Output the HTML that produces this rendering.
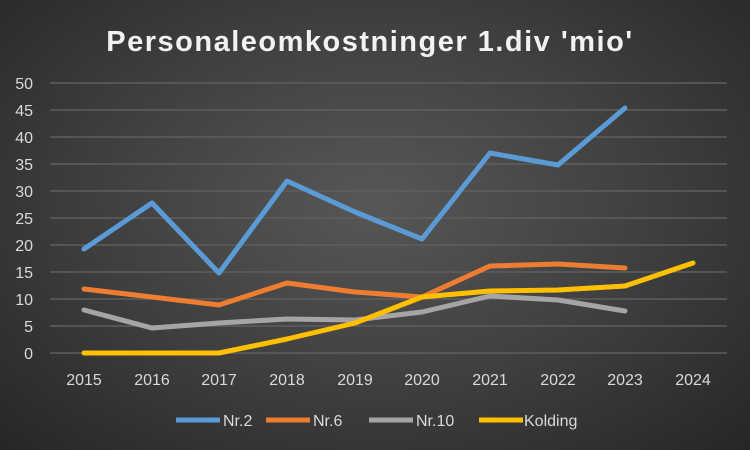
<!DOCTYPE html>
<html><head><meta charset="utf-8"><style>
html,body{margin:0;padding:0;width:750px;height:450px;overflow:hidden}
body{background:radial-gradient(ellipse at 50% 45%,#575757 0%,#404040 50%,#262626 100%)}
text{font-family:"Liberation Sans",sans-serif;fill:#d9d9d9}
</style></head><body>
<svg width="750" height="450" xmlns="http://www.w3.org/2000/svg">
<text x="370" y="51" text-anchor="middle" font-size="29" font-weight="bold" letter-spacing="1.5" style="fill:#f2f2f2">Personaleomkostninger 1.div 'mio'</text>
<g stroke="#5e5e5e" stroke-width="1.5">
<line x1="50" x2="727" y1="83" y2="83"/><line x1="50" x2="727" y1="110" y2="110"/>
<line x1="50" x2="727" y1="137" y2="137"/><line x1="50" x2="727" y1="164" y2="164"/>
<line x1="50" x2="727" y1="191" y2="191"/><line x1="50" x2="727" y1="218" y2="218"/>
<line x1="50" x2="727" y1="245" y2="245"/><line x1="50" x2="727" y1="272" y2="272"/>
<line x1="50" x2="727" y1="299" y2="299"/><line x1="50" x2="727" y1="326" y2="326"/>
<line x1="50" x2="727" y1="353" y2="353"/>
</g>
<g font-size="16" text-anchor="end">
<text x="33" y="89">50</text><text x="33" y="116">45</text><text x="33" y="143">40</text>
<text x="33" y="170">35</text><text x="33" y="197">30</text><text x="33" y="224">25</text>
<text x="33" y="251">20</text><text x="33" y="278">15</text><text x="33" y="305">10</text>
<text x="33" y="332">5</text><text x="33" y="359">0</text>
</g>
<g font-size="16" text-anchor="middle">
<text x="84" y="385">2015</text><text x="152" y="385">2016</text><text x="219" y="385">2017</text>
<text x="287" y="385">2018</text><text x="355" y="385">2019</text><text x="422" y="385">2020</text>
<text x="490" y="385">2021</text><text x="558" y="385">2022</text><text x="625" y="385">2023</text>
<text x="693" y="385">2024</text>
</g>
<g fill="none" stroke-width="5" stroke-linejoin="round" stroke-linecap="round">
<polyline stroke="#a5a5a5" points="84,310 152,328 219,323 287,319 355,320 422,312 490,296 558,300 625,311"/>
<polyline stroke="#ed7d31" points="84,289 152,297 219,305 287,283 355,292 422,297 490,266 558,264 625,268"/>
<polyline stroke="#ffc000" points="84,353 152,353 219,353 287,339 355,323 422,297 490,291 558,290 625,286 693,263"/>
<polyline stroke="#5b9bd5" points="84,249 152,203 219,273 287,181 355,212 422,239 490,153 558,165 625,108"/>
</g>
<g font-size="16">
<line x1="176" x2="220" y1="420" y2="420" stroke="#5b9bd5" stroke-width="5"/><text x="223" y="426">Nr.2</text>
<line x1="266" x2="310" y1="420" y2="420" stroke="#ed7d31" stroke-width="5"/><text x="313" y="426">Nr.6</text>
<line x1="369" x2="413" y1="420" y2="420" stroke="#a5a5a5" stroke-width="5"/><text x="416" y="426">Nr.10</text>
<line x1="479" x2="523" y1="420" y2="420" stroke="#ffc000" stroke-width="5"/><text x="524" y="426">Kolding</text>
</g>
</svg>
</body></html>
